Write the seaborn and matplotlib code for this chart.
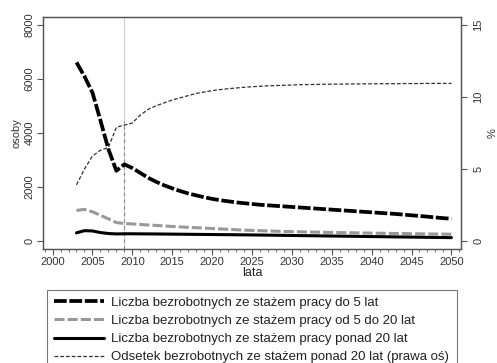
import numpy as np
import matplotlib
matplotlib.use("Agg")
import matplotlib.pyplot as plt
import seaborn as sns
import pandas as pd
from matplotlib.ticker import MultipleLocator

# lata 2003-2050
lata = list(range(2003, 2051))

# Liczba bezrobotnych ze stażem pracy do 5 lat
do_5 = [6620, 6100, 5500, 4470, 3400, 2600, 2840, 2700, 2520, 2340,
        2190, 2060, 1950, 1850, 1760, 1690, 1620, 1560, 1510, 1470,
        1430, 1400, 1370, 1340, 1320, 1300, 1280, 1260, 1240, 1220,
        1200, 1180, 1160, 1140, 1120, 1100, 1080, 1060, 1040, 1020,
        1000, 975, 950, 925, 900, 870, 845, 820]

# od 5 do 20 lat
od_5_do_20 = [1130, 1170, 1080, 950, 820, 680, 645, 630, 610, 590,
              575, 555, 535, 520, 505, 490, 475, 460, 445, 430,
              415, 400, 390, 380, 370, 360, 352, 345, 338, 332,
              326, 320, 315, 310, 305, 300, 295, 290, 285, 280,
              276, 272, 268, 264, 260, 256, 252, 248]

# ponad 20 lat
ponad_20 = [300, 380, 370, 310, 275, 260, 265, 265, 262, 260,
            258, 255, 252, 249, 246, 243, 240, 237, 234, 231,
            228, 225, 222, 218, 214, 210, 206, 202, 198, 194,
            190, 186, 182, 178, 174, 170, 166, 162, 158, 154,
            150, 146, 142, 138, 134, 130, 126, 122]

# odsetek ze stażem ponad 20 lat (%, prawa oś)
odsetek = [3.9, 5.0, 5.9, 6.3, 6.5, 7.9, 8.05, 8.2, 8.75, 9.15,
           9.4, 9.6, 9.8, 9.95, 10.1, 10.25, 10.35, 10.45, 10.52, 10.58,
           10.63, 10.68, 10.72, 10.75, 10.78, 10.8, 10.82, 10.84, 10.86, 10.87,
           10.88, 10.89, 10.9, 10.9, 10.91, 10.91, 10.92, 10.92, 10.93, 10.93,
           10.93, 10.94, 10.94, 10.94, 10.95, 10.95, 10.95, 10.95]

etykiety = ["Liczba bezrobotnych ze stażem pracy do 5 lat",
            "Liczba bezrobotnych ze stażem pracy od 5 do 20 lat",
            "Liczba bezrobotnych ze stażem pracy ponad 20 lat",
            "Odsetek bezrobotnych ze stażem ponad 20 lat (prawa oś)"]

df = pd.DataFrame({"lata": lata, "do_5": do_5, "od_5_do_20": od_5_do_20,
                   "ponad_20": ponad_20, "odsetek": odsetek})

sns.set_theme(style="ticks")
plt.rcParams["font.family"] = ["Liberation Sans", "DejaVu Sans"]

fig = plt.figure(figsize=(4.97, 3.63), dpi=100)
ax = fig.add_axes([0.0865, 0.314, 0.841, 0.639])
ax2 = ax.twinx()

# linia pionowa 2009
ax.axvline(2009, color="#d0d0d0", lw=0.9, zorder=0)
ax.axvline(2009, ymax=0.55, color="#8a8a8a", lw=0.8, ls=(0, (3, 3)), zorder=0)

sns.lineplot(data=df, x="lata", y="do_5", ax=ax, color="black", lw=2.7,
             label=etykiety[0])
ax.lines[-1].set_dashes([3.4, 0.7])
sns.lineplot(data=df, x="lata", y="od_5_do_20", ax=ax, color="#999999", lw=2.2,
             label=etykiety[1])
ax.lines[-1].set_dashes([3.3, 1.0])
sns.lineplot(data=df, x="lata", y="ponad_20", ax=ax, color="black", lw=2.2,
             label=etykiety[2])
sns.lineplot(data=df, x="lata", y="odsetek", ax=ax2, color="#303030", lw=0.9,
             label=etykiety[3])
ax2.lines[-1].set_dashes([3, 1.6])

ax.set_xlim(1998.8, 2051.2)
ax.set_ylim(-300, 8300)
ax2.set_ylim(-300 * 15 / 8000, 8300 * 15 / 8000)

ax.set_xticks(range(2000, 2051, 5))
ax.xaxis.set_minor_locator(MultipleLocator(1))
ax.set_yticks(range(0, 8001, 2000))
ax2.set_yticks([0, 5, 10, 15])

for a in (ax, ax2):
    for s in a.spines.values():
        s.set_visible(True)
        s.set_color("#555555")
        s.set_linewidth(0.9)
    a.tick_params(axis="both", which="major", length=4, width=0.8,
                  color="#555555", labelsize=8, labelcolor="#333333", pad=2)
    a.tick_params(axis="x", which="minor", length=2, width=0.6, color="#555555")
    a.tick_params(axis="y", which="minor", left=False, right=False)
ax2.tick_params(axis="y", pad=5)
for lab in ax.get_yticklabels() + ax2.get_yticklabels():
    lab.set_rotation(90)
    lab.set_va("center")

ax.set_xlabel("lata", fontsize=9, color="#222222", labelpad=0)
ax.set_ylabel("osoby", fontsize=8, color="#333333", labelpad=2)
ax2.set_ylabel("%", fontsize=8, color="#333333", labelpad=3)

h1, l1 = ax.get_legend_handles_labels()
h2, l2 = ax2.get_legend_handles_labels()
ax.get_legend().remove()
ax2.get_legend().remove()
leg = fig.legend(h1 + h2, l1 + l2, loc="upper left",
                 bbox_to_anchor=(0.095, -0.5, 0.825, 0.701), mode="expand",
                 ncol=1, fontsize=9.5, frameon=True, fancybox=False,
                 handlelength=3.8, handletextpad=0.55, labelspacing=0.45,
                 borderpad=0.5, borderaxespad=0)
leg.get_frame().set_edgecolor("#555555")
leg.get_frame().set_linewidth(0.8)
for t in leg.get_texts():
    t.set_color("#222222")

fig.savefig("out.png", dpi=100)
